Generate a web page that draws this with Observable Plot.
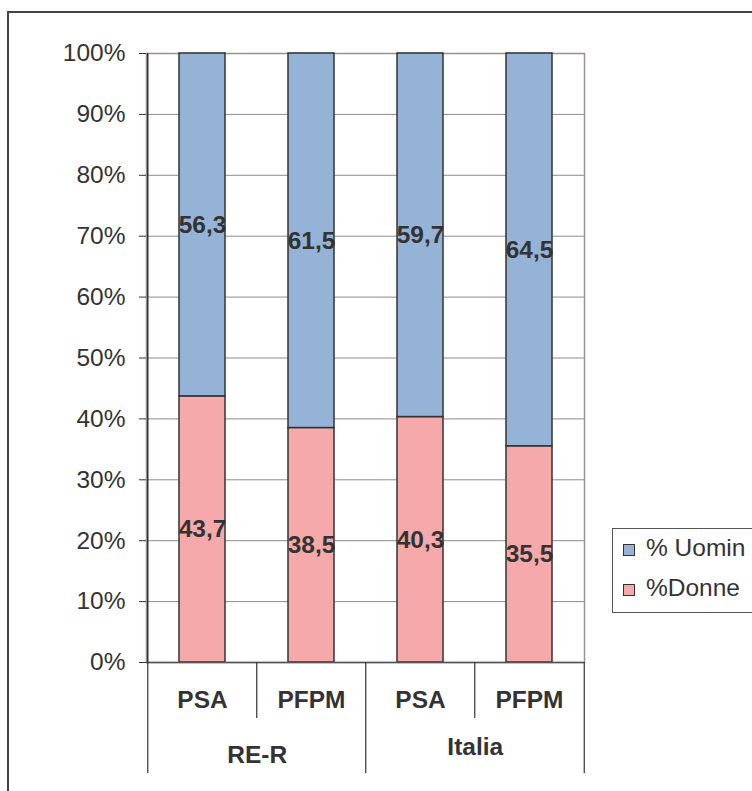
<!DOCTYPE html>
<html>
<head>
<meta charset="utf-8">
<script src="https://cdn.jsdelivr.net/npm/d3@7"></script>
<script src="https://cdn.jsdelivr.net/npm/@observablehq/plot@0.6"></script>
<style>
  html, body { margin: 0; padding: 0; background: #fff; overflow: hidden; }
  #wrap { position: relative; width: 752px; height: 791px; font-family: "Liberation Sans", Arial, sans-serif; color: #333; }
  #chart { position: absolute; left: 0; top: 0; }
  #outer { position: absolute; left: 7px; top: 11px; width: 900px; height: 900px; border-left: 2px solid #444; border-top: 2px solid #444; }
  #legend { position: absolute; left: 612px; top: 528px; width: 170px; height: 83px; border: 1px solid #555; background: #fff; }
  .item { position: absolute; left: 10px; height: 30px; line-height: 30px; font-size: 24.5px; white-space: nowrap; }
  .sw { position: absolute; left: 0; top: 9px; width: 10px; height: 10px; border: 1.5px solid #333; }
  .lab { position: absolute; left: 23px; top: -2px; }
</style>
</head>
<body>
<div id="wrap">
  <div id="chart"></div>
  <div id="outer"></div>
  <div id="legend"></div>
</div>
<script>
// ---- data ----
const groups = ["RE-R", "RE-R", "Italia", "Italia"];
const subs = ["PSA", "PFPM", "PSA", "PFPM"];
const donne = [43.7, 38.5, 40.3, 35.5];
const uomini = [56.3, 61.5, 59.7, 64.5];
const series = ["%Donne", "% Uomin"];
const colors = ["#F6A9AB", "#95B3D7"];
const yTicks = [0, 10, 20, 30, 40, 50, 60, 70, 80, 90, 100];

const keys = subs.map((s, i) => groups[i] + "|" + s);
const rows = [];
keys.forEach((k, i) => {
  rows.push({key: k, sub: subs[i], group: groups[i], serie: series[0], value: donne[i]});
  rows.push({key: k, sub: subs[i], group: groups[i], serie: series[1], value: uomini[i]});
});
const cats = keys.map((k, i) => ({key: k, sub: subs[i], group: groups[i], first: i === 0 || groups[i] !== groups[i - 1]}));
const groupFirst = cats.filter(d => d.first);

const W = 752, H = 791;
const mL = 146, mR = 168, mT = 53, mB = 129;
const step = (W - mL - mR) / keys.length;
const plotH = H - mT - mB;

const chart = Plot.plot({
  width: W,
  height: H,
  marginLeft: mL,
  marginRight: mR,
  marginTop: mT,
  marginBottom: mB,
  style: {fontFamily: "'Liberation Sans', Arial, sans-serif", fontSize: "24px", color: "#333", background: "#fff"},
  x: {domain: keys, paddingInner: 0.58, paddingOuter: 0.29, axis: null},
  y: {domain: [0, 100], axis: null},
  color: {domain: series, range: colors},
  marks: [
    Plot.gridY(yTicks, {stroke: "#8c8c8c", strokeOpacity: 1, strokeWidth: 1}),
    Plot.frame({stroke: "#9a9090", strokeWidth: 1.5}),
    Plot.axisY({ticks: yTicks, label: null, tickFormat: d => d + "%", tickSize: 7, tickPadding: 14, fontSize: 24.5, stroke: "#333", fill: "#333"}),
    Plot.barY(rows, {x: "key", y: "value", fill: "serie", stroke: "#333", strokeWidth: 1.5}),
    Plot.text(rows, Plot.stackY({x: "key", y: "value", text: d => d.value.toFixed(1).replace(".", ","), fontWeight: "bold", fontSize: 24.5, fill: "#333"})),
    Plot.ruleY([0], {stroke: "#555", strokeWidth: 1.5}),
    Plot.ruleX([0], {x: () => keys[0], dx: -step / 2, stroke: "#333", strokeWidth: 1.5}),
    // sub-category separators
    Plot.ruleX(cats.filter(d => !d.first), {x: "key", dx: -step / 2, insetTop: plotH, insetBottom: -56, stroke: "#333", strokeWidth: 1.2}),
    // group separators
    Plot.ruleX(groupFirst, {x: "key", dx: -step / 2, insetTop: plotH, insetBottom: -111, stroke: "#333", strokeWidth: 1.2}),
    Plot.ruleX([keys[keys.length - 1]], {x: d => d, dx: step / 2, insetTop: plotH, insetBottom: -111, stroke: "#333", strokeWidth: 1.2}),
    // labels
    Plot.text(cats, {x: "key", frameAnchor: "bottom", text: "sub", dy: 38, fontWeight: "bold", fontSize: 24.5, fill: "#333", lineAnchor: "middle"}),
    Plot.text(groupFirst.filter(d => d.group === "RE-R"), {x: "key", frameAnchor: "bottom", text: "group", dx: step / 2, dy: 93, fontWeight: "bold", fontSize: 24.5, fill: "#333", lineAnchor: "middle"}),
    Plot.text(groupFirst.filter(d => d.group !== "RE-R"), {x: "key", frameAnchor: "bottom", text: "group", dx: step / 2, dy: 85, fontWeight: "bold", fontSize: 24.5, fill: "#333", lineAnchor: "middle", letterSpacing: "1px"})
  ]
});
document.getElementById("chart").appendChild(chart);

// legend (order: Uomini first, then Donne)
const legend = document.getElementById("legend");
[series[1], series[0]].forEach((s, i) => {
  const it = document.createElement("div");
  it.className = "item";
  it.style.top = (6 + i * 40) + "px";
  const sw = document.createElement("span");
  sw.className = "sw";
  sw.style.background = colors[series.indexOf(s)];
  const lab = document.createElement("span");
  lab.className = "lab";
  lab.textContent = s;
  it.appendChild(sw);
  it.appendChild(lab);
  legend.appendChild(it);
});
</script>
</body>
</html>
